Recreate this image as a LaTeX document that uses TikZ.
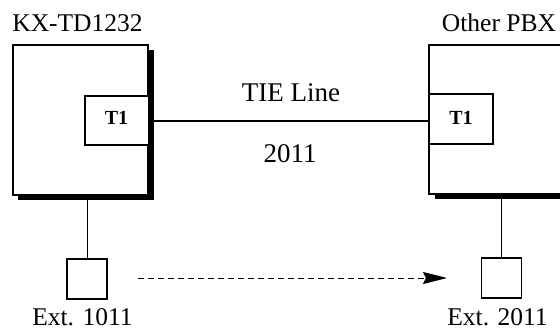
\documentclass[tikz,border=0pt]{standalone}
\usepackage{fontspec}
\setmainfont{Liberation Serif}
\usetikzlibrary{arrows.meta}
\begin{document}
\begin{tikzpicture}[x=1pt,y=-1pt,
  pbx/.style={draw=black,line width=1.3pt,fill=white},
  tbox/.style={draw=black,line width=1.1pt,fill=white},
  extbox/.style={draw=black,line width=1.1pt,fill=white,minimum width=40pt,minimum height=40pt,inner sep=0pt},
  lbl/.style={inner sep=0pt,anchor=base,font=\fontsize{25.5}{28}\selectfont},
  mid/.style={inner sep=0pt,anchor=base,font=\fontsize{27}{30}\selectfont},
  tl/.style={inner sep=0pt,anchor=base,font=\bfseries\fontsize{20}{22}\selectfont},
  wire/.style={line width=1pt}]
\useasboundingbox (0,0) rectangle (560,330);
% left PBX
\fill[black] (18,50) rectangle (154,200);
\draw[pbx] (13,45) rectangle (148,195);
\draw[tbox] (148,96) -- (85,96) -- (85,145) -- (148,145);
\node[tl] (lt1) at (116.5,124) {T1};
% right PBX
\fill[black] (435,50) rectangle (570,199);
\draw[pbx] (570,45) -- (429,45) -- (429,194) -- (570,194);
\draw[tbox] (429,94) rectangle (493,144);
\coordinate (rt) at (429,121);
\node[tl] (rt1) at (461,124) {T1};
% labels
\node[lbl] (kx) at (77.5,31) {KX-TD1232};
\node[lbl] (op) at (499,31) {Other PBX};
\node[mid] (tie) at (291,101) {TIE Line};
\node[mid] (num) at (290,162) {2011};
% TIE line
\coordinate (lt) at (154,121);
\draw[line width=1.6pt] (lt) -- (rt);
% extensions
\node[extbox] (e1) at (87,279) {};
\node[extbox] (e2) at (501.5,278) {};
\coordinate (l1) at (87,200);
\coordinate (r1) at (501.5,199);
\draw[wire] (l1) -- (e1.north);
\draw[wire] (r1) -- (e2.north);
\node[lbl] (x1) at (82.5,325) {Ext. 1011};
\node[lbl] (x2) at (497.5,325) {Ext. 2011};
% dashed arrow
\coordinate (a0) at (138,278);
\coordinate (a1) at (447,278);
\draw[wire,dash pattern=on 6pt off 4pt,-{Stealth[length=24pt,width=12pt,inset=3pt]}] (a0) -- (a1);
\end{tikzpicture}
\end{document}
